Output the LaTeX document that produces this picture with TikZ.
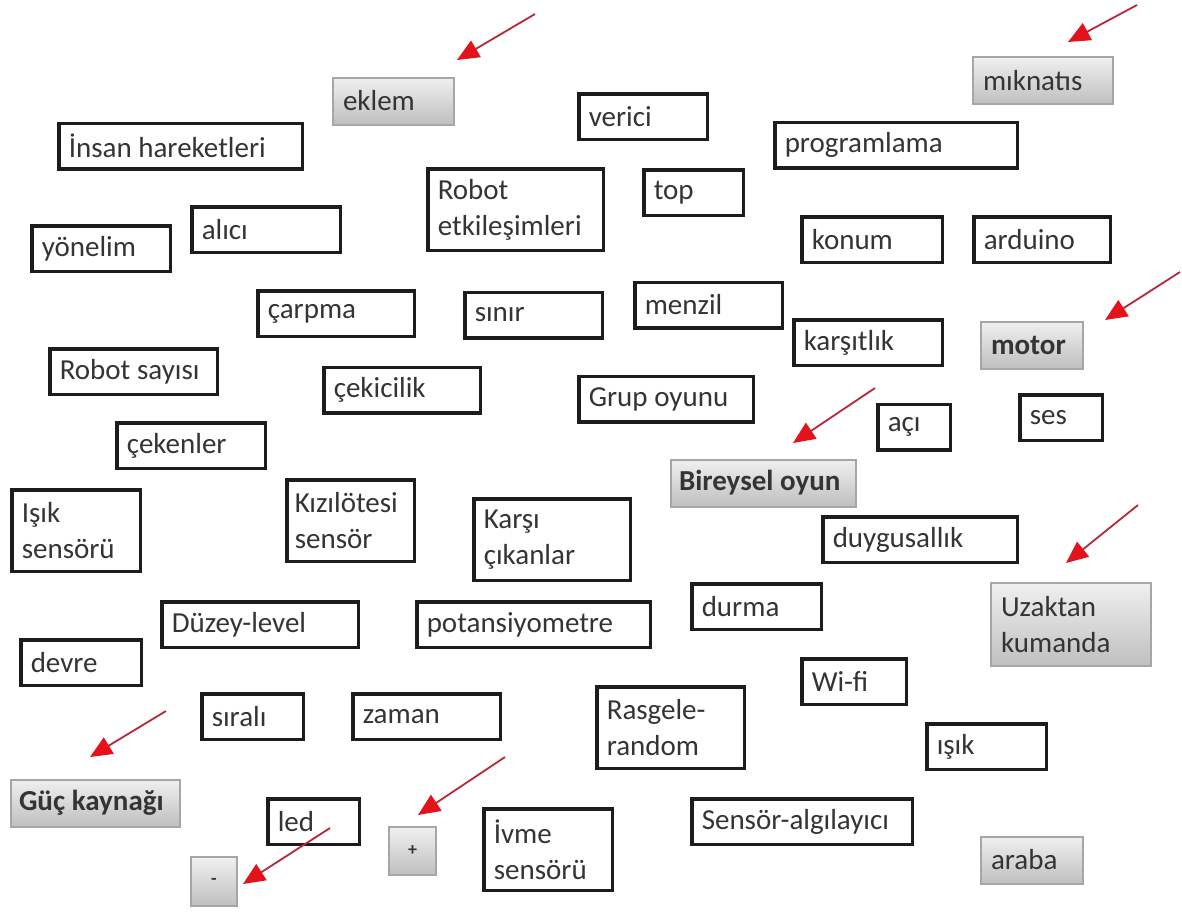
\documentclass[tikz,border=0pt]{standalone}
\usepackage{fontspec}
\setmainfont{Carlito}
\usepackage{tikz}
\usetikzlibrary{arrows.meta}

\definecolor{metin}{HTML}{343434}
\definecolor{cerceve}{HTML}{1C1C1C}
\definecolor{okrenk}{HTML}{E3121B}
\definecolor{okcizgi}{HTML}{B3283A}

\begin{document}
\begin{tikzpicture}[x=1pt, y=-1pt,
  kutu/.style={draw=cerceve, line width=3.5pt, fill=white, text=metin, align=left,
    inner xsep=10pt, inner ysep=4pt, minimum height=45.5pt, font=\fontsize{29}{36}\selectfont,
    execute at begin node={\spaceskip=0.23em plus 0.05em\relax}},
  tus/.style={draw=gray!70, line width=2pt, top color=gray!12, bottom color=gray!50, text=metin,
    align=left, inner xsep=10pt, inner ysep=4pt, minimum height=47pt, font=\fontsize{29}{36}\selectfont,
    execute at begin node={\spaceskip=0.23em plus 0.05em\relax}},
  ok/.style={draw=okcizgi, line width=1.8pt, -{Triangle[length=22pt,width=19pt,color=okrenk]}}]
  \useasboundingbox (0,0) rectangle (1182,916);

  \node[tus, text width=101pt] (eklem) at (393.5,101) {eklem};
  \node[tus, text width=120pt] (miknatis) at (1043,80.5) {mıknatıs};
  \node[kutu, text width=108.5pt] (verici) at (643,116.5) {verici};
  \node[kutu, text width=223.5pt] (insan) at (180.5,146) {İnsan hareketleri};
  \node[kutu, text width=222.5pt] (program) at (896,145) {programlama};
  \node[kutu, text width=155.5pt, minimum height=81.5pt] (robotet) at (515.5,209.5) {Robot\\etkileşimleri};
  \node[kutu, text width=79.5pt] (top) at (693.5,192.5) {top};
  \node[kutu, text width=128.5pt] (alici) at (266,229.5) {alıcı};
  \node[kutu, text width=118.5pt] (yonelim) at (101,248.5) {yönelim};
  \node[kutu, text width=120.5pt] (konum) at (872,239.5) {konum};
  \node[kutu, text width=116.5pt] (arduino) at (1042,239.5) {arduino};

  \node[kutu, text width=136.5pt] (carpma) at (336,313.5) {çarpma};
  \node[kutu, text width=117.5pt] (sinir) at (533.5,315) {sınır};
  \node[kutu, text width=127.5pt] (menzil) at (708.5,305) {menzil};
  \node[kutu, text width=128.5pt] (karsitlik) at (868,342.5) {karşıtlık};
  \node[tus, text width=82pt, font=\fontsize{29}{36}\selectfont\bfseries] (motor) at (1032,345) {motor};
  \node[kutu, text width=147.5pt] (robotsay) at (133.5,371.5) {Robot sayısı};
  \node[kutu, text width=136.5pt] (cekicilik) at (402,390) {çekicilik};
  \node[kutu, text width=154.5pt] (grup) at (666,399) {Grup oyunu};
  \node[kutu, text width=52.5pt] (aci) at (914,427) {açı};
  \node[kutu, text width=62.5pt] (ses) at (1061,417.5) {ses};
  \node[kutu, text width=128.5pt] (cekenler) at (191,445.5) {çekenler};
  \node[tus, text width=169pt, inner xsep=8pt, font=\fontsize{29}{36}\selectfont\bfseries] (bireysel) at (763.5,483) {Bireysel oyun};

  \node[kutu, text width=108.5pt, minimum height=81.5pt] (isiksen) at (76,530.5) {Işık\\sensörü};
  \node[kutu, text width=111.5pt, inner xsep=8pt, minimum height=81.5pt] (kizilotesi) at (350.5,520.5) {Kızılötesi\\sensör};
  \node[kutu, text width=136.5pt, minimum height=81.5pt] (karsi) at (552,539.5) {Karşı\\çıkanlar};
  \node[kutu, text width=174.5pt] (duygu) at (920,539.5) {duygusallık};
  \node[tus, text width=140pt, minimum height=83pt] (uzaktan) at (1071,624.5) {Uzaktan\\kumanda};
  \node[kutu, text width=109.5pt] (durma) at (756.5,606.5) {durma};
  \node[kutu, text width=176.5pt] (duzey) at (260,624.5) {Düzey-level};
  \node[kutu, text width=213.5pt] (potans) at (533.5,624.5) {potansiyometre};
  \node[kutu, text width=100.5pt] (devre) at (81,662.5) {devre};
  \node[kutu, text width=84.5pt] (wifi) at (854,681.5) {Wi-fi};

  \node[kutu, text width=81.5pt] (sirali) at (252.5,716.5) {sıralı};
  \node[kutu, text width=127.5pt] (zaman) at (426.5,716.5) {zaman};
  \node[kutu, text width=127.5pt, minimum height=81.5pt] (rasgele) at (670.5,727.5) {Rasgele-\\random};
  \node[kutu, text width=99.5pt] (isik) at (986.5,746.5) {ışık};
  \node[tus, text width=153pt, inner xsep=8pt, font=\fontsize{29}{36}\selectfont\bfseries] (guc) at (95.5,803) {Güç kaynağı};
  \node[kutu, text width=71.5pt] (led) at (313.5,821.5) {led};
  \node[tus, text width=27pt, align=center, minimum height=48pt, inner xsep=10pt] (arti) at (412.5,851) {\fontsize{18}{20}\selectfont\bfseries +};
  \node[kutu, text width=108.5pt, minimum height=81.5pt] (ivme) at (548,849.5) {İvme\\sensörü};
  \node[kutu, text width=200.5pt] (sensor) at (802,821.5) {Sensör-algılayıcı};
  \node[tus, text width=82pt] (araba) at (1032,860) {araba};
  \node[tus, text width=26pt, align=center, minimum height=49pt, inner xsep=10pt] (eksi) at (214,881.5) {\fontsize{18}{20}\selectfont\bfseries -};

  \coordinate (eklemK) at (535,14);      \coordinate (eklemU) at (457,60);
  \coordinate (miknatisK) at (1137,5);   \coordinate (miknatisU) at (1068,42);
  \coordinate (motorK) at (1180,272);    \coordinate (motorU) at (1105,320);
  \coordinate (bireyselK) at (875,388);  \coordinate (bireyselU) at (793,443);
  \coordinate (uzaktanK) at (1138,505);  \coordinate (uzaktanU) at (1066,563);
  \coordinate (gucK) at (166,711);       \coordinate (gucU) at (90,757);
  \coordinate (artiK) at (505,757);      \coordinate (artiU) at (418,815);
  \coordinate (eksiK) at (330,828);      \coordinate (eksiU) at (243,884);

  \draw[ok] (eklemK) -- (eklemU);
  \draw[ok] (miknatisK) -- (miknatisU);
  \draw[ok] (motorK) -- (motorU);
  \draw[ok] (bireyselK) -- (bireyselU);
  \draw[ok] (uzaktanK) -- (uzaktanU);
  \draw[ok] (gucK) -- (gucU);
  \draw[ok] (artiK) -- (artiU);
  \draw[ok] (eksiK) -- (eksiU);
\end{tikzpicture}
\end{document}
